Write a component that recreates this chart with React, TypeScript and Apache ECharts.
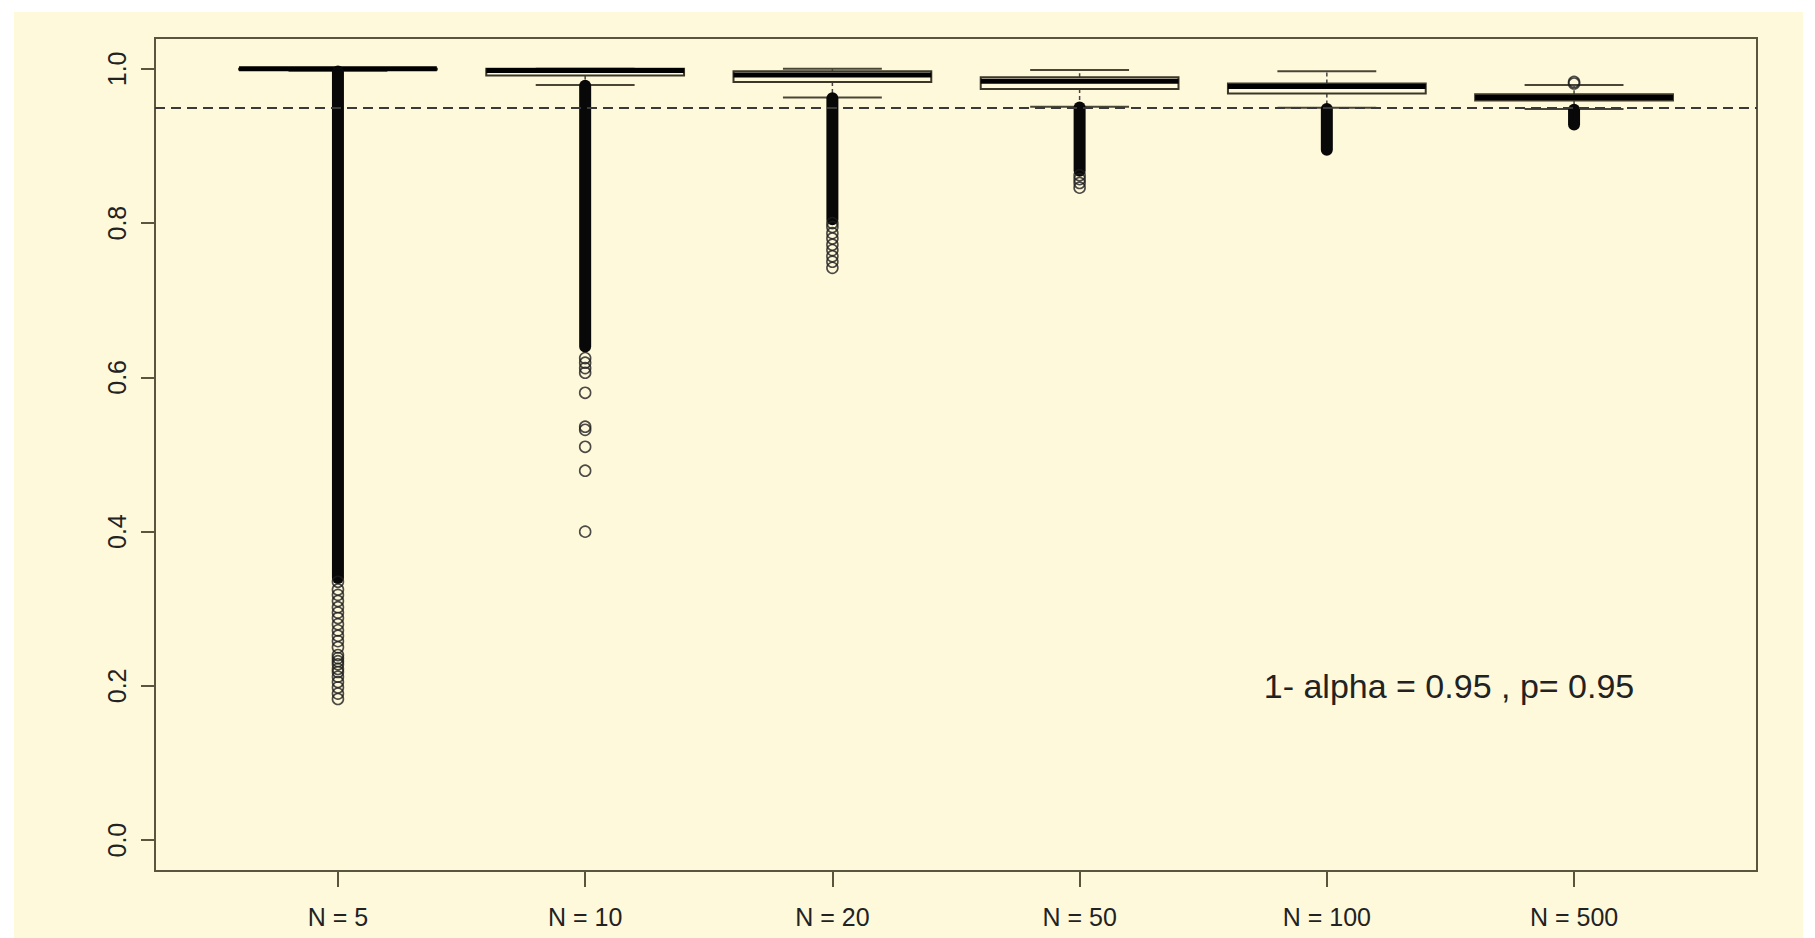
import React, { useEffect, useRef } from "react";
import * as echarts from "echarts";

// ---- data ----
const categories = ["N = 5", "N = 10", "N = 20", "N = 50", "N = 100", "N = 500"];
const positions = [1, 2, 3, 4, 5, 6];

const lowerWhisker = [0.9975, 0.979, 0.963, 0.951, 0.9495, 0.948];
const lowerHinge = [0.999, 0.9915, 0.983, 0.974, 0.968, 0.959];
const medians = [1.0, 0.998, 0.992, 0.984, 0.977, 0.963];
const upperHinge = [1.0, 1.0, 0.997, 0.989, 0.981, 0.967];
const upperWhisker = [1.0, 1.0, 1.0, 0.9985, 0.997, 0.979];

// ranges where the outlier circles are so dense they form a solid column
const denseOutlierTop = [0.9965, 0.978, 0.962, 0.95, 0.948, 0.947];
const denseOutlierBottom = [0.34, 0.64, 0.805, 0.868, 0.895, 0.928];

// individually visible outliers
const outliersN5 = [0.335, 0.325, 0.318, 0.31, 0.302, 0.295, 0.288, 0.28, 0.272, 0.265, 0.258, 0.25, 0.24, 0.236, 0.232, 0.228, 0.222, 0.218, 0.212, 0.205, 0.198, 0.19, 0.183];
const outliersN10 = [0.625, 0.619, 0.612, 0.606, 0.58, 0.536, 0.532, 0.51, 0.479, 0.4];
const outliersN20 = [0.8, 0.795, 0.787, 0.78, 0.772, 0.765, 0.757, 0.75, 0.742];
const outliersN50 = [0.862, 0.857, 0.852, 0.846];
const outliersN100: number[] = [];
const outliersN500 = [0.983, 0.981];
const outlierGroups = [outliersN5, outliersN10, outliersN20, outliersN50, outliersN100, outliersN500];

const yTicks = [0, 0.2, 0.4, 0.6, 0.8, 1.0];
const referenceLevel = 0.95;
const annotation = "1- alpha = 0.95 , p= 0.95";

// ---- styles ----
const BOX_WIDTH = 0.8;
const STAPLE_WIDTH = 0.4;
const FRAME = "#59553f";
const INK = "#222222";
const CREAM = "#FFF9DB";
const FONT = "'Liberation Sans', Arial, Helvetica, sans-serif";

export default function App() {
  const ref = useRef<HTMLDivElement>(null);

  useEffect(() => {
    document.body.style.margin = "0";
    const chart = echarts.init(ref.current!, null, { renderer: "svg" });

    const boxData = positions.map((p, i) => [p, lowerWhisker[i], lowerHinge[i], medians[i], upperHinge[i], upperWhisker[i]]);
    const bandData = positions.map((p, i) => [p, denseOutlierTop[i], denseOutlierBottom[i]]);
    const outlierData: number[][] = [];
    outlierGroups.forEach((g, i) => g.forEach((v) => outlierData.push([positions[i], v])));

    const option: any = {
      animation: false,
      backgroundColor: "#ffffff",
      graphic: [
        {
          type: "rect",
          z: -100,
          silent: true,
          shape: { x: 14, y: 12, width: 1789, height: 926 },
          style: { fill: CREAM },
        },
        {
          type: "text",
          z: 100,
          x: 1449,
          y: 686,
          style: {
            text: annotation,
            fill: INK,
            font: `34px ${FONT}`,
            align: "center",
            verticalAlign: "middle",
          },
        },
      ],
      grid: {
        left: 155,
        right: 58,
        top: 38,
        bottom: 67,
        show: true,
        borderColor: FRAME,
        borderWidth: 2,
        backgroundColor: "transparent",
      },
      xAxis: {
        type: "value",
        min: 0.26,
        max: 6.74,
        splitLine: { show: false },
        axisLine: { show: false, onZero: false },
        axisTick: {
          show: true,
          inside: false,
          customValues: positions,
          length: 16,
          lineStyle: { color: FRAME, width: 2 },
        },
        axisLabel: {
          customValues: positions,
          formatter: (v: number) => categories[Math.round(v) - 1],
          margin: 33,
          fontSize: 25,
          color: INK,
          fontFamily: FONT,
        },
      },
      yAxis: {
        type: "value",
        min: -0.04,
        max: 1.04,
        splitLine: { show: false },
        axisLine: { show: false, onZero: false },
        axisTick: {
          show: true,
          inside: false,
          customValues: yTicks,
          length: 14,
          lineStyle: { color: FRAME, width: 2 },
        },
        axisLabel: {
          customValues: yTicks,
          rotate: 90,
          formatter: (v: number) => v.toFixed(1),
          margin: 26,
          fontSize: 25,
          color: INK,
          fontFamily: FONT,
        },
      },
      series: [
        {
          type: "custom",
          name: "boxes",
          data: boxData,
          encode: { x: 0, y: [1, 2, 3, 4, 5] },
          z: 3,
          renderItem: (params: any, api: any) => {
            const x = api.value(0);
            const lo = api.coord([x, api.value(1)]);
            const q1 = api.coord([x, api.value(2)]);
            const med = api.coord([x, api.value(3)]);
            const q3 = api.coord([x, api.value(4)]);
            const hi = api.coord([x, api.value(5)]);
            const bw = api.size([BOX_WIDTH, 0])[0];
            const sw = api.size([STAPLE_WIDTH, 0])[0];
            const cx = lo[0];
            return {
              type: "group",
              children: [
                { type: "line", shape: { x1: cx, y1: q1[1], x2: cx, y2: lo[1] }, style: { stroke: "#444", lineWidth: 1.5, lineDash: [4, 3] } },
                { type: "line", shape: { x1: cx, y1: q3[1], x2: cx, y2: hi[1] }, style: { stroke: "#444", lineWidth: 1.5, lineDash: [4, 3] } },
                { type: "line", shape: { x1: cx - sw / 2, y1: lo[1], x2: cx + sw / 2, y2: lo[1] }, style: { stroke: "#4a4636", lineWidth: 2 } },
                { type: "line", shape: { x1: cx - sw / 2, y1: hi[1], x2: cx + sw / 2, y2: hi[1] }, style: { stroke: "#4a4636", lineWidth: 2 } },
                { type: "rect", shape: { x: cx - bw / 2, y: q3[1], width: bw, height: q1[1] - q3[1] }, style: { fill: "none", stroke: "#3a3728", lineWidth: 2 } },
                { type: "line", shape: { x1: cx - bw / 2, y1: med[1], x2: cx + bw / 2, y2: med[1] }, style: { stroke: "#000", lineWidth: 5 } },
              ],
            };
          },
        },
        {
          type: "custom",
          name: "dense outliers",
          data: bandData,
          encode: { x: 0, y: [1, 2] },
          z: 4,
          renderItem: (params: any, api: any) => {
            const x = api.value(0);
            const top = api.coord([x, api.value(1)]);
            const bottom = api.coord([x, api.value(2)]);
            return {
              type: "line",
              shape: { x1: top[0], y1: top[1], x2: bottom[0], y2: bottom[1] },
              style: { stroke: "#080808", lineWidth: 12, lineCap: "round" },
            };
          },
        },
        {
          type: "scatter",
          name: "outliers",
          data: outlierData,
          z: 5,
          symbol: "circle",
          symbolSize: 11,
          itemStyle: { color: "rgba(0,0,0,0)", borderColor: "#1e1e1e", borderWidth: 1.6 },
          markLine: {
            silent: true,
            symbol: "none",
            label: { show: false },
            lineStyle: { type: [10, 6], color: "#3a3a3a", width: 1.8 },
            data: [{ yAxis: referenceLevel }],
          },
        },
      ],
    };

    chart.setOption(option);
    return () => chart.dispose();
  }, []);

  return <div ref={ref} style={{ width: 1815, height: 938 }} />;
}
